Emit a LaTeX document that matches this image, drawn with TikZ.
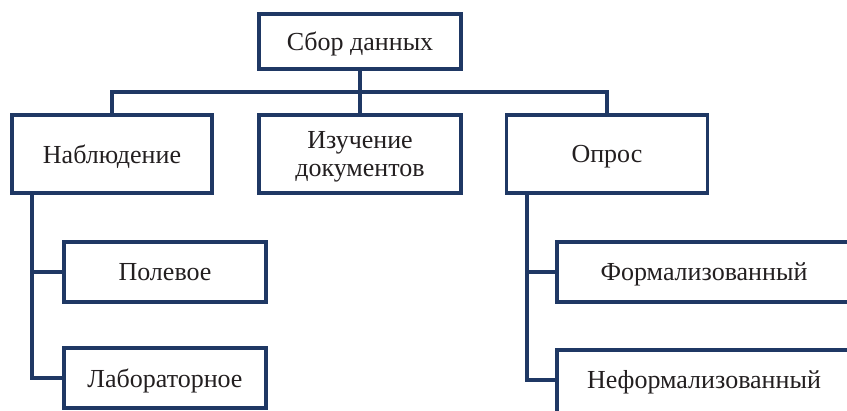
\documentclass[tikz,border=0pt]{standalone}
\usepackage{fontspec}
\setmainfont{Liberation Serif}
\definecolor{navy}{RGB}{31,56,100}
\definecolor{ink}{RGB}{35,31,32}
\begin{document}
\begin{tikzpicture}[x=1pt,y=-1pt,
  box/.style={draw=navy, line width=3.6pt, fill=white, inner sep=0pt,
    minimum width=202pt, text=ink, align=center, text depth=0pt,
    font=\fontsize{26}{28}\selectfont},
  link/.style={draw=navy, line width=3.6pt, line join=miter}]
  \useasboundingbox (0,0) rectangle (847,411);

  % root and first level
  \node[box, minimum height=55pt] (top) at (360,41.5) {Сбор данных};
  \node[box, minimum width=200pt, minimum height=78pt] (nab) at (112,154) {Наблюдение};
  \node[box, minimum height=78pt] (izu) at (360,154) {Изучение\\документов};
  \node[box, minimum width=201pt, minimum height=78pt] (opr) at (607,154) {Опрос};

  % second level, left branch
  \node[box, minimum height=60pt] (pol) at (165,272) {Полевое};
  \node[box, minimum height=60pt] (lab) at (165,378) {Лабораторное};

  % second level, right branch
  \node[box, minimum width=294pt, minimum height=60pt] (frm) at (704,272) {Формализованный};
  \node[box, minimum width=294pt, minimum height=80pt, anchor=north] (nfm) at (704,348) {};
  \node[text=ink, inner sep=0pt, text depth=0pt, font=\fontsize{26}{28}\selectfont] (nfmtext) at (704,379) {Неформализованный};

  % connector guides
  \coordinate (bus) at (0,92);
  \coordinate (ltrunk) at (32,0);
  \coordinate (rtrunk) at (527,0);
  \coordinate (nfmjoin) at (527,380);

  % bus from the root
  \draw[link] (top.south) -- (izu.north);
  \draw[link] (nab.north) -- (nab.north |- bus) -- (opr.north |- bus) -- (opr.north);

  % left tree
  \draw[link] (ltrunk |- nab.south) -- (ltrunk |- lab.west) -- (lab.west);
  \draw[link] (ltrunk |- pol.west) -- (pol.west);

  % right tree
  \draw[link] (rtrunk |- opr.south) -- (nfmjoin) -- (nfmjoin -| nfm.west);
  \draw[link] (rtrunk |- frm.west) -- (frm.west);
\end{tikzpicture}
\end{document}
